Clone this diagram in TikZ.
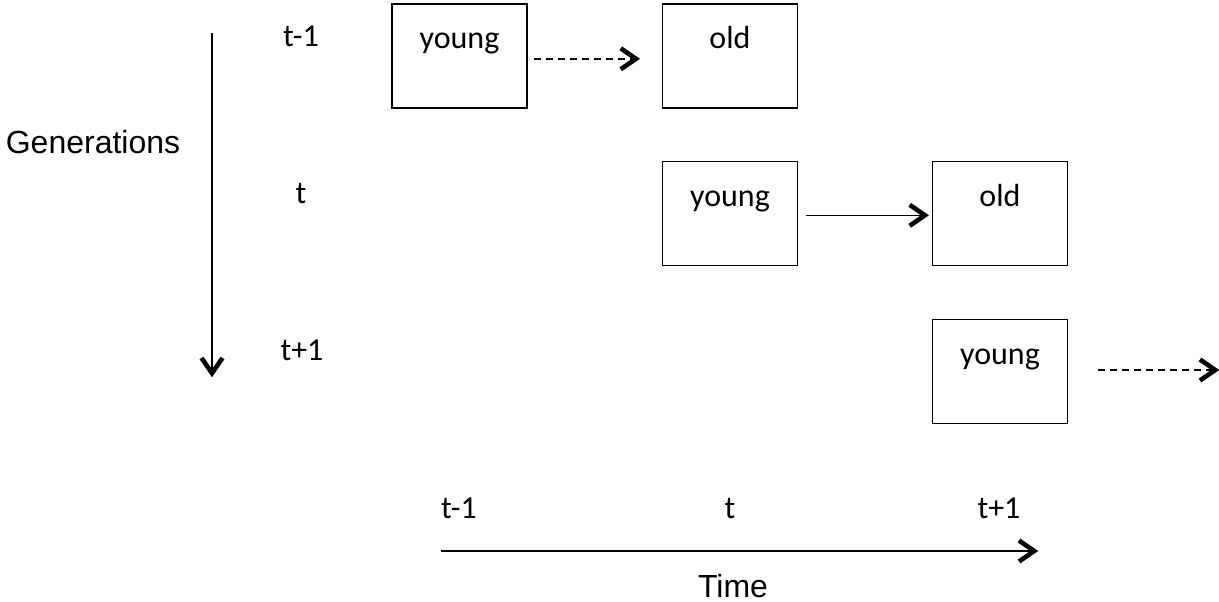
\documentclass[tikz,border=0pt]{standalone}
\usepackage{fontspec}
\setmainfont{Carlito}
\newfontfamily\arialf{Liberation Sans}
\usetikzlibrary{arrows.meta}

% bold open chevron used as the arrow tip of every connector
\pgfdeclarearrow{
  name = Chev,
  setup code = {
    \pgfarrowssettipend{0pt}
    \pgfarrowssetlineend{-4pt}
    \pgfarrowssetvisualbackend{-20pt}
    \pgfarrowssetbackend{-21pt}
    \pgfarrowsupperhullpoint{-21pt}{13pt}
    \pgfarrowshullpoint{0pt}{0pt}
  },
  drawing code = {
    \pgfsetlinewidth{4.6pt}
    \pgfsetdash{}{0pt}
    \pgfsetmiterjoin
    \pgfsetbuttcap
    \pgfpathmoveto{\pgfqpoint{-19pt}{10.5pt}}
    \pgfpathlineto{\pgfqpoint{-3.8pt}{0pt}}
    \pgfpathlineto{\pgfqpoint{-19pt}{-10.5pt}}
    \pgfusepathqstroke
  }
}

\tikzset{
  agebox/.style={draw, line width=1.6pt, anchor=north, minimum width=135pt,
    inner xsep=0pt, inner ysep=0pt, text height=45pt, text depth=59pt,
    font=\fontsize{32}{38}\selectfont},
  lbl/.style={anchor=base, inner sep=0pt, font=\fontsize{32}{38}\selectfont},
  axislbl/.style={anchor=base, inner sep=0pt, font=\arialf\fontsize{32}{38}\selectfont},
  flow/.style={line width=1.5pt, -Chev},
  dashflow/.style={flow, dash pattern=on 7pt off 5pt},
}

\begin{document}
\begin{tikzpicture}[x=1pt, y=-1pt]
  \useasboundingbox (0,0) rectangle (1219,602);

  % generations axis
  \node[axislbl] (gen) at (93,153) {Generations};
  \coordinate (gtop) at (212,33);
  \coordinate (gbot) at (212,377);
  \draw[flow] (gtop) -- (gbot);

  % generation labels
  \node[lbl] (gprev) at (301,47) {t-1};
  \node[lbl] (gnow)  at (301,203) {t};
  \node[lbl] (gnext) at (302,360) {t+1};

  % life stages of each generation
  \node[agebox] (young1) at (459.5,3)   {young};
  \node[agebox] (old1)   at (730,3)     {old};
  \node[agebox] (young2) at (730,160.5) {young};
  \node[agebox] (old2)   at (1000,160.5){old};
  \node[agebox] (young3) at (1000,318.5){young};

  % transitions from young to old
  \draw[dashflow, shorten <=6pt, shorten >=22pt]
    ([yshift=-3pt]young1.east) -- ([yshift=-3pt]old1.west);
  \draw[flow, shorten <=8pt, shorten >=3pt]
    ([yshift=-2pt]young2.east) -- ([yshift=-2pt]old2.west);
  \coordinate (next) at (1219,370);
  \draw[dashflow, shorten <=30pt] (young3.east |- next) -- (next);

  % time axis
  \coordinate (tstart) at (441,551);
  \coordinate (tend)   at (1038,551);
  \draw[flow] (tstart) -- (tend);
  \node[lbl] (tprev) at (459,518) {t-1};
  \node[lbl] (tnow)  at (730,518) {t};
  \node[lbl] (tnext) at (999,518) {t+1};
  \node[axislbl] (time) at (733,597) {Time};
\end{tikzpicture}
\end{document}
